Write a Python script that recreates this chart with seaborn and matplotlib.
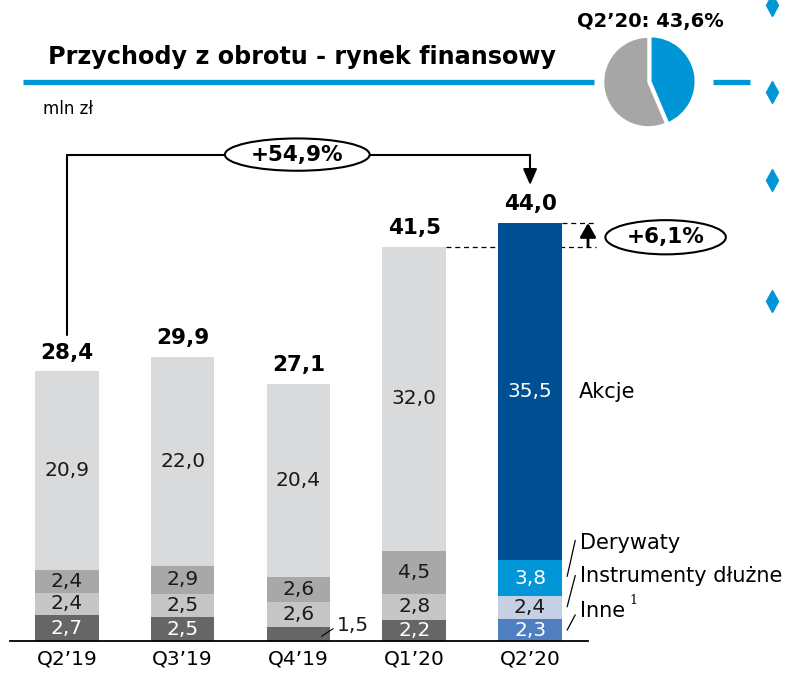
import matplotlib
matplotlib.use("Agg")
import matplotlib.pyplot as plt
from matplotlib.patches import Ellipse
import seaborn as sns
import pandas as pd
import numpy as np

# ---- data ----
quarters = ["Q2’19", "Q3’19", "Q4’19", "Q1’20", "Q2’20"]
inne = [2.7, 2.5, 1.5, 2.2, 2.3]
instrumenty = [2.4, 2.5, 2.6, 2.8, 2.4]
derywaty = [2.4, 2.9, 2.6, 4.5, 3.8]
akcje = [20.9, 22.0, 20.4, 32.0, 35.5]
totals = [28.4, 29.9, 27.1, 41.5, 44.0]
total_labels = ["28,4", "29,9", "27,1", "41,5", "44,0"]
segment_names = ["Inne", "Instrumenty dłużne", "Derywaty", "Akcje"]
growth_yoy = "+54,9%"
growth_qoq = "+6,1%"
pie_share = [43.6, 56.4]
pie_label = "Q2’20: 43,6%"

grey_colors = {"Inne": "#666666", "Instrumenty dłużne": "#c6c6c6",
               "Derywaty": "#a8a8a8", "Akcje": "#d9dadc"}
blue_colors = {"Inne": "#4f7fc0", "Instrumenty dłużne": "#c5d0e4",
               "Derywaty": "#0096d7", "Akcje": "#004f93"}
white_text = {"Inne": (True, True), "Instrumenty dłużne": (False, False),
              "Derywaty": (False, True), "Akcje": (False, True)}

sns.set_theme(style="white")
plt.rcParams["font.family"] = ["DejaVu Sans"]
plt.rcParams["text.color"] = "black"
plt.rcParams["xtick.color"] = "black"

W, H = 792, 673
fig = plt.figure(figsize=(W / 100, H / 100), dpi=100)

# ---- background overlay in pixel coordinates ----
ov = fig.add_axes([0, 0, 1, 1])
ov.set_xlim(0, W)
ov.set_ylim(H, 0)
ov.axis("off")
blue = "#0096d6"
ov.plot([23, 594], [82, 82], color=blue, lw=3.8, solid_capstyle="butt")
ov.plot([713, 750], [82, 82], color=blue, lw=3.8, solid_capstyle="butt")
ov.plot([772] * 4, [5, 92, 180, 301], ls="none", marker="d", color=blue,
        markersize=11)

# main axes: baseline at pixel y=641, top at pixel y=0 ; x from px 10 to 588
PXU = 9.5  # pixels per unit
ax = fig.add_axes([10 / W, (H - 641) / H, 578 / W, 641 / H])
ax.patch.set_alpha(0)
ymax = 641 / PXU

layers = [inne, instrumenty, derywaty, akcje]
cum = np.cumsum(np.array(layers), axis=0)
# draw from top layer to bottom so lower layers overlay upper
for i in range(len(layers) - 1, -1, -1):
    name = segment_names[i]
    df = pd.DataFrame({"q": quarters, "v": cum[i]})
    pal = [grey_colors[name]] * 4 + [blue_colors[name]]
    sns.barplot(data=df, x="q", y="v", hue="q", palette=pal, legend=False,
                width=0.55, ax=ax, saturation=1, linewidth=0)

ax.set_xlim(-0.49, 4.5)
ax.set_ylim(0, ymax)
for s in ["top", "right", "left"]:
    ax.spines[s].set_visible(False)
ax.spines["bottom"].set_color("black")
ax.spines["bottom"].set_linewidth(1.3)
ax.set_yticks([])
ax.set_xlabel("")
ax.set_ylabel("")
ax.tick_params(axis="x", length=0, pad=6, labelsize=14.5, labelcolor="black")

# segment labels
SEG_FS = 14.5
for j in range(5):
    base = 0
    for i, name in enumerate(segment_names):
        v = layers[i][j]
        lab = f"{v:.1f}".replace(".", ",")
        wt = white_text[name][1] if j == 4 else white_text[name][0]
        col = "white" if wt else "#1a1a1a"
        if name == "Inne" and v < 2:
            ax.text(j + 0.47, base + v / 2 + 0.9, lab, ha="center", va="center",
                    fontsize=SEG_FS, color="#1a1a1a")
            ax.plot([j + 0.2, j + 0.3], [base + 0.5, base + 1.3], color="black",
                    lw=0.8, clip_on=False)
        else:
            ax.text(j, base + v / 2, lab, ha="center", va="center",
                    fontsize=SEG_FS, color=col)
        base += v

# totals
for j in range(5):
    ax.text(j, totals[j] + 1.95, total_labels[j], ha="center", va="center",
            fontsize=15.5, fontweight="bold", color="black")

# bracket for y/y growth
top_y = 51.2
ax.plot([0, 0, 4, 4], [totals[0] + 3.8, top_y, top_y, totals[4] + 5.2],
        color="black", lw=1.5, clip_on=False, solid_joinstyle="miter")
ax.annotate("", xy=(4, totals[4] + 4.0), xytext=(4, totals[4] + 5.3),
            arrowprops=dict(arrowstyle="-|>,head_length=0.8,head_width=0.35",
                            color="black", lw=1.5, shrinkA=0, shrinkB=0),
            annotation_clip=False)
ax.add_patch(Ellipse((1.99, top_y), 1.25, 3.4, facecolor="white",
                     edgecolor="black", lw=1.5, clip_on=False, zorder=5))
ax.text(1.99, top_y, growth_yoy, ha="center", va="center", fontsize=15.5,
        fontweight="bold", zorder=6)

# q/q growth dashed lines and arrow
ax.plot([3.275, 4.57], [totals[3], totals[3]], color="black", lw=0.9,
        ls=(0, (4, 3)), clip_on=False, zorder=0.5)
ax.plot([4.275, 4.57], [totals[4], totals[4]], color="black", lw=0.9,
        ls=(0, (4, 3)), clip_on=False)
ax.annotate("", xy=(4.5, totals[4]), xytext=(4.5, totals[3]),
            arrowprops=dict(arrowstyle="-|>,head_length=0.7,head_width=0.4",
                            color="black", lw=2, shrinkA=0, shrinkB=0),
            annotation_clip=False)
ax.add_patch(Ellipse((5.17, 42.5), 1.04, 3.6, facecolor="white",
                     edgecolor="black", lw=1.5, clip_on=False, zorder=5))
ax.text(5.17, 42.5, growth_qoq, ha="center", va="center", fontsize=15.5,
        fontweight="bold", zorder=6)

# right-side segment names with leader lines
LEG_FS = 15
ax.text(4.42, 26.25, "Akcje", ha="left", va="center", fontsize=LEG_FS)
ax.text(4.43, 10.3, "Derywaty", ha="left", va="center", fontsize=LEG_FS)
ax.text(4.43, 6.8, "Instrumenty dłużne", ha="left", va="center", fontsize=LEG_FS)
ax.text(4.43, 3.2, "Inne", ha="left", va="center", fontsize=LEG_FS)
ax.text(4.86, 4.3, "1", ha="left", va="center", fontsize=9, family="DejaVu Serif")
for (y0, y1) in [(6.8, 10.6), (3.6, 6.9), (1.15, 2.75)]:
    ax.plot([4.32, 4.39], [y0, y1], color="black", lw=0.9, clip_on=False)

fig.text(48 / W, 1 - 57 / H, "Przychody z obrotu - rynek finansowy",
         ha="left", va="center", fontsize=17.2, fontweight="bold")
fig.text(43 / W, 1 - 109 / H, "mln zł", ha="left", va="center", fontsize=12)
fig.text(650 / W, 1 - 21 / H, pie_label, ha="center", va="center",
         fontsize=14, fontweight="bold")

pax = fig.add_axes([601 / W, 1 - 129 / H, 96 / W, 94 / H])
pax.patch.set_alpha(0)
pax.pie(pie_share, colors=[blue, "#a6a6a6"], startangle=90, counterclock=False,
        explode=[0.05, 0], wedgeprops=dict(edgecolor="white", linewidth=1.5))
pax.set_aspect("auto")
pax.set_xlim(-1.05, 1.08)
pax.set_ylim(-1.04, 1.04)
pax.axis("off")

fig.savefig("out.png", dpi=100)
